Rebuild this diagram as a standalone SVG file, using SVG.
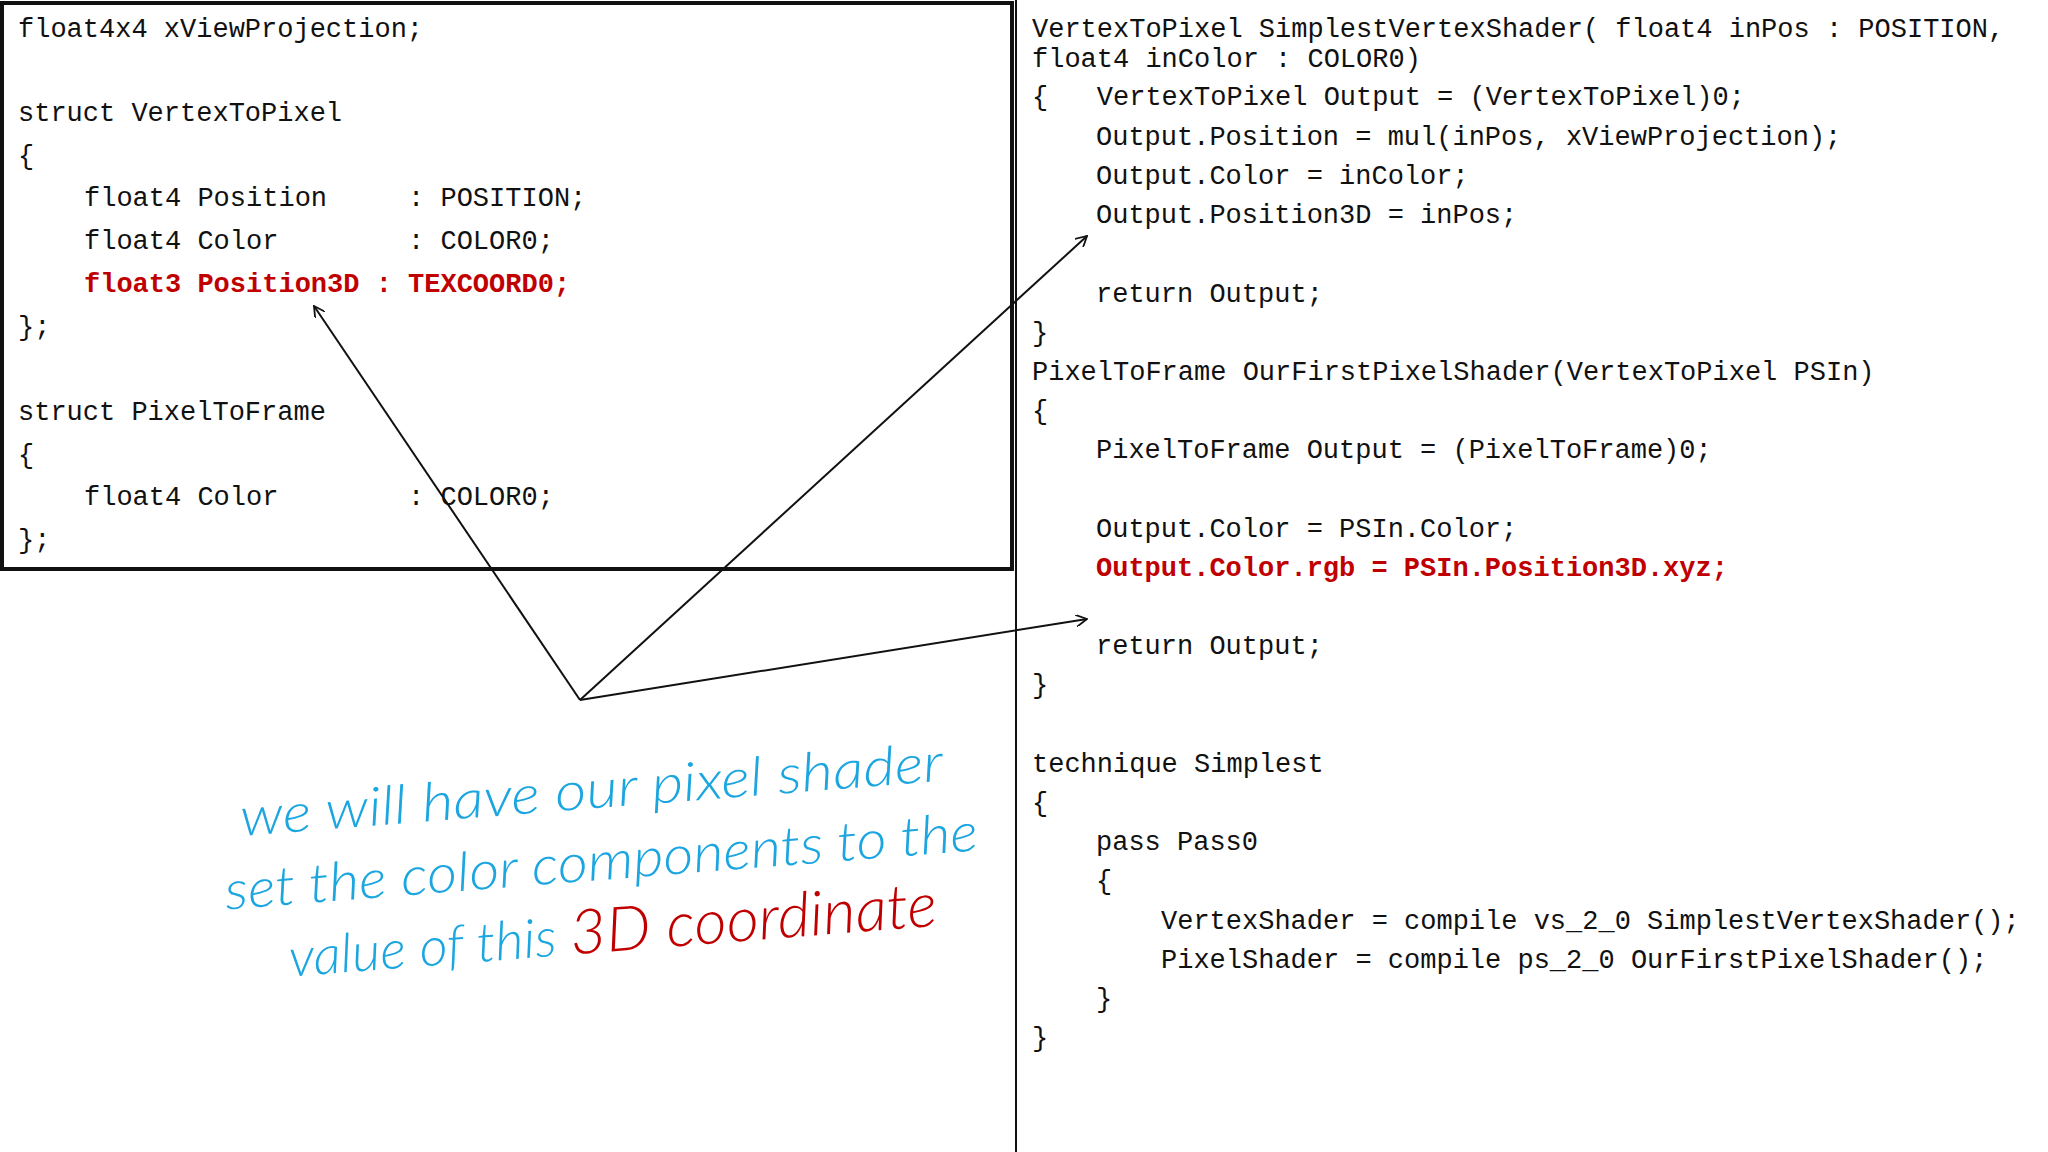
<svg xmlns="http://www.w3.org/2000/svg" width="2048" height="1152" viewBox="0 0 2048 1152">
<defs>
<style>
.c{font-family:"Liberation Mono","DejaVu Sans Mono",monospace;font-size:27px;fill:#111;white-space:pre}
.r{fill:#c00000;font-weight:bold}
.h{font-family:Lato,"Open Sans",sans-serif;font-style:italic;font-weight:300;font-size:54px;fill:#1ca6e0}
.con{stroke:#111;stroke-width:2;fill:none;marker-end:url(#a)}
</style>
<marker id="a" viewBox="0 0 12 12" refX="11" refY="6" markerWidth="12" markerHeight="12" markerUnits="userSpaceOnUse" orient="auto"><path d="M0,0 L11,6 L0,12" fill="none" stroke="#111" stroke-width="1.8"/></marker>
</defs>
<rect width="2048" height="1152" fill="#fff"/>
<g id="structs">
<rect x="2" y="3" width="1010" height="566" fill="none" stroke="#111" stroke-width="4"/>
<text class="c" x="18" y="37">float4x4 xViewProjection;</text>
<text class="c" x="18" y="121">struct VertexToPixel</text>
<text class="c" x="18" y="164">{</text>
<text class="c" x="84" y="206">float4 Position     : POSITION;</text>
<text class="c" x="84" y="249">float4 Color        : COLOR0;</text>
<text class="c r" x="84" y="292">float3 Position3D : TEXCOORD0;</text>
<text class="c" x="18" y="335">};</text>
<text class="c" x="18" y="420">struct PixelToFrame</text>
<text class="c" x="18" y="463">{</text>
<text class="c" x="84" y="505">float4 Color        : COLOR0;</text>
<text class="c" x="18" y="548">};</text>
</g>
<g id="shaders">
<rect x="1016" y="-2" width="1040" height="1160" fill="none" stroke="#111" stroke-width="2"/>
<text class="c" x="1032" y="37">VertexToPixel SimplestVertexShader( float4 inPos : POSITION,</text>
<text class="c" x="1032" y="67">float4 inColor : COLOR0)</text>
<text class="c" x="1032" y="105">{   VertexToPixel Output = (VertexToPixel)0;</text>
<text class="c" x="1096" y="145">Output.Position = mul(inPos, xViewProjection);</text>
<text class="c" x="1096" y="184">Output.Color = inColor;</text>
<text class="c" x="1096" y="223">Output.Position3D = inPos;</text>
<text class="c" x="1096" y="302">return Output;</text>
<text class="c" x="1032" y="341">}</text>
<text class="c" x="1032" y="380">PixelToFrame OurFirstPixelShader(VertexToPixel PSIn)</text>
<text class="c" x="1032" y="419">{</text>
<text class="c" x="1096" y="458">PixelToFrame Output = (PixelToFrame)0;</text>
<text class="c" x="1096" y="537">Output.Color = PSIn.Color;</text>
<text class="c r" x="1096" y="576">Output.Color.rgb = PSIn.Position3D.xyz;</text>
<text class="c" x="1096" y="654">return Output;</text>
<text class="c" x="1032" y="693">}</text>
<text class="c" x="1032" y="772">technique Simplest</text>
<text class="c" x="1032" y="811">{</text>
<text class="c" x="1096" y="850">pass Pass0</text>
<text class="c" x="1096" y="889">{</text>
<text class="c" x="1161" y="929">VertexShader = compile vs_2_0 SimplestVertexShader();</text>
<text class="c" x="1161" y="968">PixelShader = compile ps_2_0 OurFirstPixelShader();</text>
<text class="c" x="1096" y="1007">}</text>
<text class="c" x="1032" y="1046">}</text>
</g>
<g id="connectors">
<line class="con" x1="580" y1="700" x2="314" y2="306"/>
<line class="con" x1="580" y1="700" x2="1087" y2="236"/>
<line class="con" x1="580" y1="700" x2="1087" y2="619"/>
</g>
<g id="note" transform="rotate(-4.5 600 860)">
<text class="h" x="597" y="808" text-anchor="middle" textLength="705" lengthAdjust="spacingAndGlyphs">we will have our pixel shader</text>
<text class="h" x="601" y="880" text-anchor="middle" textLength="755" lengthAdjust="spacingAndGlyphs">set the color components to the</text>
<text class="h" x="607" y="952" text-anchor="middle" textLength="650" lengthAdjust="spacingAndGlyphs">value of this <tspan fill="#c00000" font-size="62">3D coordinate</tspan></text>
</g>
</svg>
